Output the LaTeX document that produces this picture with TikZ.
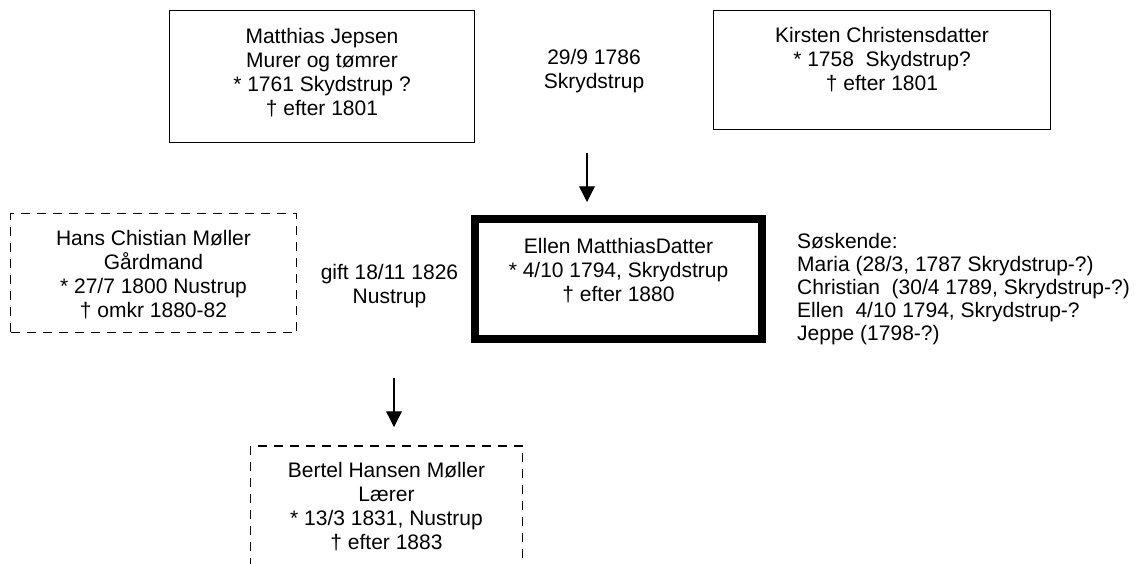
\documentclass[tikz,border=0pt]{standalone}
\usepackage{fontspec}
\setmainfont{Liberation Sans}
\usetikzlibrary{arrows.meta}
\begin{document}
\begin{tikzpicture}[x=1pt,y=-1pt,
  solidbox/.style={draw=black,line width=1.3pt,minimum width=#1,inner sep=0pt},
  dashbox/.style={draw=black,line width=1.5pt,dash pattern=on 9pt off 7pt,minimum width=#1,inner sep=0pt},
  txt/.style={align=center,inner sep=0pt,font=\fontsize{21}{24}\selectfont},
  sibs/.style={align=left,inner sep=0pt,anchor=west,font=\fontsize{21}{23}\selectfont},
  descent/.style={draw=black,line width=1.3pt,-{Triangle[width=15.7pt,length=15.7pt]}}]
\useasboundingbox[fill=white] (0,0) rectangle (1138,563);
% boxes
\node[solidbox=305pt,minimum height=132pt] (mj) at (322,76.5) {};
\node[solidbox=337pt,minimum height=119pt] (kc) at (882,70) {};
\node[dashbox=286pt,minimum height=119pt] (hc) at (153.5,273) {};
\node[draw=black,line width=8pt,minimum width=287pt,minimum height=120pt,inner sep=0pt] (em) at (618.5,279) {};
\node[dashbox=272pt,minimum height=160pt,anchor=north] (bh) at (386.5,445) {};
% texts
\node[txt] (mjt) at (322,73) {Matthias Jepsen\\Murer og tømrer\\* 1761 Skydstrup ?\\† efter 1801};
\node[txt] (kct) at (882,60) {Kirsten Christensdatter\\* 1758\ \ Skydstrup?\\† efter 1801};
\node[txt] (m1) at (594,71.5) {29/9 1786\\Skrydstrup};
\node[txt] (hct) at (153.5,274.5) {Hans Chistian Møller\\Gårdmand\\* 27/7 1800 Nustrup\\† omkr 1880-82};
\node[txt] (m2) at (389.5,286.5) {gift 18/11 1826\\Nustrup};
\node[txt] (emt) at (618.5,271) {Ellen MatthiasDatter\\* 4/10 1794, Skrydstrup\\† efter 1880};
\node[sibs] (sib) at (797,289) {Søskende:\\Maria (28/3, 1787 Skrydstrup-?)\\Christian\ \ (30/4 1789, Skrydstrup-?)\\Ellen\ \ 4/10 1794, Skrydstrup-?\\Jeppe (1798-?)};
\node[txt] (bht) at (386.5,506.5) {Bertel Hansen Møller\\Lærer\\* 13/3 1831, Nustrup\\† efter 1883};
% arrows
\coordinate (a1s) at (587,153);
\coordinate (a1e) at (587,202);
\coordinate (a2s) at (394,378);
\coordinate (a2e) at (394,427);
\draw[descent] (a1s) -- (a1e);
\draw[descent] (a2s) -- (a2e);
\end{tikzpicture}
\end{document}
